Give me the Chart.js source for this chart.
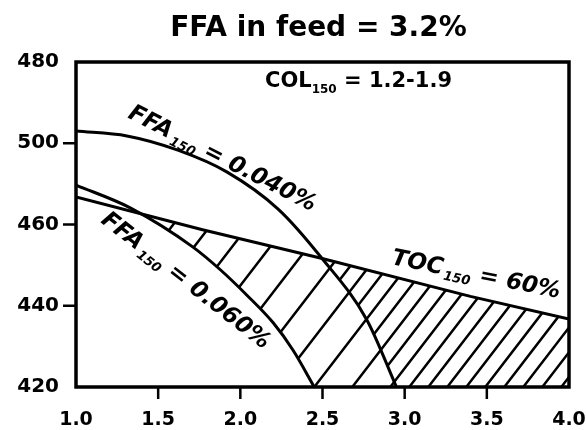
<!DOCTYPE html>
<html>
<head>
<meta charset="utf-8">
<script src="https://cdn.jsdelivr.net/npm/chart.js@4"></script>
<style>
  html, body { margin: 0; padding: 0; background: #fff; }
  #wrap { width: 586px; height: 430px; }
</style>
</head>
<body>
<div id="wrap"><canvas id="chart" width="586" height="430"></canvas></div>
<script>
// values
const ffa040X = [1.0, 1.31, 1.62, 1.92, 2.23, 2.49, 2.77, 2.95];
const ffa040Y = [483.0, 481.8, 478.3, 472.9, 463.8, 452.0, 436.5, 420];
const ffa060X = [1.0, 1.33, 1.71, 1.88, 2.04, 2.20, 2.32, 2.45];
const ffa060Y = [469.7, 464.1, 454.5, 448.8, 442.6, 435.8, 429.1, 420];
const tocX = [1.0, 1.77, 2.48, 3.40, 4.0];
const tocY = [466.8, 458.7, 451.8, 442.3, 436.7];
// tick labels as printed (top two are swapped in the original)
const yTickLabels = ['420', '440', '460', '500', '480'];

const FONT = '"DejaVu Sans"';

function toPoints(xs, ys) {
    return xs.map((x, i) => ({ x: x, y: ys[i] }));
}

// lines of the hatch, going up to the right
function hatchLines(ctx, a, x0, gap) {
    const slope = 1.3;
    const run = (a.bottom - a.top) / slope;
    ctx.beginPath();
    for (let bx = x0 - 30 * gap; bx < a.right; bx += gap) {
        ctx.moveTo(bx, a.bottom);
        ctx.lineTo(bx + run, a.top);
    }
    ctx.stroke();
}

function clipRightOf(ctx, line, a) {
    ctx.beginPath();
    line.path(ctx);
    ctx.lineTo(a.right, a.bottom);
    ctx.lineTo(a.right, a.top);
    ctx.lineTo(a.left, a.top);
    ctx.closePath();
    ctx.clip();
}

function drawHatch(chart) {
    const ctx = chart.ctx;
    const a = chart.chartArea;
    const line = i => chart.getDatasetMeta(i).dataset;

    ctx.save();
    ctx.beginPath();
    ctx.rect(a.left, a.top, a.width, a.height);
    ctx.clip();

    // under TOC line
    ctx.beginPath();
    line(2).path(ctx);
    ctx.lineTo(a.right, a.bottom);
    ctx.lineTo(a.left, a.bottom);
    ctx.closePath();
    ctx.clip();

    // right of FFA 0.060 curve
    clipRightOf(ctx, line(1), a);

    ctx.strokeStyle = '#000';
    ctx.lineWidth = 2.5;
    const x0 = chart.scales.x.getPixelForValue(ffa060X[ffa060X.length - 1]);
    hatchLines(ctx, a, x0, 38);

    // denser past the FFA 0.040 curve
    clipRightOf(ctx, line(0), a);
    hatchLines(ctx, a, x0 + 19, 38);
    ctx.restore();
}

// tick marks outside the frame, not at the corners
function drawTicks(chart) {
    const ctx = chart.ctx;
    const a = chart.chartArea;
    const sx = chart.scales.x, sy = chart.scales.y;
    ctx.save();
    ctx.strokeStyle = '#000';
    ctx.lineWidth = 2.5;
    ctx.beginPath();
    sx.ticks.slice(1, -1).forEach(t => {
        const px = sx.getPixelForValue(t.value);
        ctx.moveTo(px, a.bottom);
        ctx.lineTo(px, a.bottom + 12);
    });
    sy.ticks.slice(1, -1).forEach(t => {
        const py = sy.getPixelForValue(t.value);
        ctx.moveTo(a.left, py);
        ctx.lineTo(a.left - 13, py);
    });
    ctx.stroke();
    ctx.restore();
}

function drawRich(ctx, px, py, deg, parts) {
    ctx.save();
    ctx.translate(px, py);
    ctx.rotate(deg * Math.PI / 180);
    ctx.fillStyle = '#000';
    ctx.textAlign = 'left';
    ctx.textBaseline = 'alphabetic';
    let cx = 0;
    for (const p of parts) {
        ctx.font = p.font;
        cx += p.dx || 0;
        ctx.fillText(p.text, cx, p.dy || 0);
        cx += ctx.measureText(p.text).width;
    }
    ctx.restore();
}

function drawNotes(chart) {
    const ctx = chart.ctx;
    const a = chart.chartArea;
    const sx = chart.scales.x, sy = chart.scales.y;
    const at = (x, y) => [sx.getPixelForValue(x), sy.getPixelForValue(y)];
    const big = 'italic bold 23px ' + FONT;
    const sub = 'italic bold 13px ' + FONT;

    // title
    ctx.save();
    ctx.font = 'bold 28px ' + FONT;
    ctx.fillStyle = '#000';
    ctx.textAlign = 'center';
    ctx.textBaseline = 'alphabetic';
    ctx.fillText('FFA in feed = 3.2%', (a.left + a.right) / 2 - 4, 36);
    ctx.restore();

    let p = at(2.15, 493.8);
    drawRich(ctx, p[0], p[1], 0, [
        { text: 'COL', font: 'bold 21px ' + FONT },
        { text: '150', font: 'bold 12px ' + FONT, dy: 6 },
        { text: ' = 1.2-1.9', font: 'bold 21px ' + FONT }
    ]);

    p = at(1.31, 486.4);
    drawRich(ctx, p[0], p[1], 27, [
        { text: 'FFA', font: big },
        { text: '150', font: sub, dy: 5, dx: 3 },
        { text: ' = 0.040%', font: big }
    ]);

    p = at(1.146, 460.6);
    drawRich(ctx, p[0], p[1], 38, [
        { text: 'FFA', font: big },
        { text: '150', font: sub, dy: 5, dx: 3 },
        { text: ' = 0.060%', font: big }
    ]);

    p = at(2.915, 450.3);
    drawRich(ctx, p[0], p[1], 11.5, [
        { text: 'TOC', font: big },
        { text: '150', font: sub, dy: 5, dx: 2 },
        { text: ' = 60%', font: big }
    ]);
}

const figurePlugin = {
    id: 'figure',
    beforeDatasetsDraw(chart) {
        drawHatch(chart);
    },
    afterDatasetsDraw(chart) {
        const a = chart.chartArea;
        const ctx = chart.ctx;
        ctx.save();
        ctx.strokeStyle = '#000';
        ctx.lineWidth = 3.5;
        ctx.strokeRect(a.left, a.top, a.width, a.height);
        ctx.restore();
        drawTicks(chart);
        drawNotes(chart);
    }
};

const lineStyle = {
    borderColor: '#000',
    borderWidth: 3,
    pointRadius: 0,
    fill: false
};

new Chart(document.getElementById('chart'), {
    type: 'line',
    data: {
        datasets: [
            Object.assign({ label: 'FFA150 = 0.040%', data: toPoints(ffa040X, ffa040Y), cubicInterpolationMode: 'monotone' }, lineStyle),
            Object.assign({ label: 'FFA150 = 0.060%', data: toPoints(ffa060X, ffa060Y), cubicInterpolationMode: 'monotone' }, lineStyle),
            Object.assign({ label: 'TOC150 = 60%', data: toPoints(tocX, tocY), tension: 0 }, lineStyle)
        ]
    },
    options: {
        responsive: false,
        animation: false,
        layout: { padding: { top: 62, right: 17, bottom: 0, left: 0 } },
        plugins: {
            legend: { display: false },
            tooltip: { enabled: false }
        },
        scales: {
            x: {
                type: 'linear',
                min: 1,
                max: 4,
                ticks: {
                    stepSize: 0.5,
                    color: '#000',
                    padding: 14,
                    maxRotation: 0,
                    font: { family: FONT, weight: 'bold', size: 19 },
                    callback: v => v.toFixed(1)
                },
                grid: { display: false },
                border: { display: false },
                afterFit(scale) {
                    scale.height = 43;
                    scale.paddingLeft = 0;
                    scale.paddingRight = 0;
                }
            },
            y: {
                min: 420,
                max: 500,
                ticks: {
                    stepSize: 20,
                    color: '#000',
                    padding: 9,
                    font: { family: FONT, weight: 'bold', size: 20 },
                    callback: (v, i) => yTickLabels[i]
                },
                grid: { display: false },
                border: { display: false },
                afterFit(scale) {
                    scale.width = 76;
                }
            }
        }
    },
    plugins: [figurePlugin]
});
</script>
</body>
</html>
